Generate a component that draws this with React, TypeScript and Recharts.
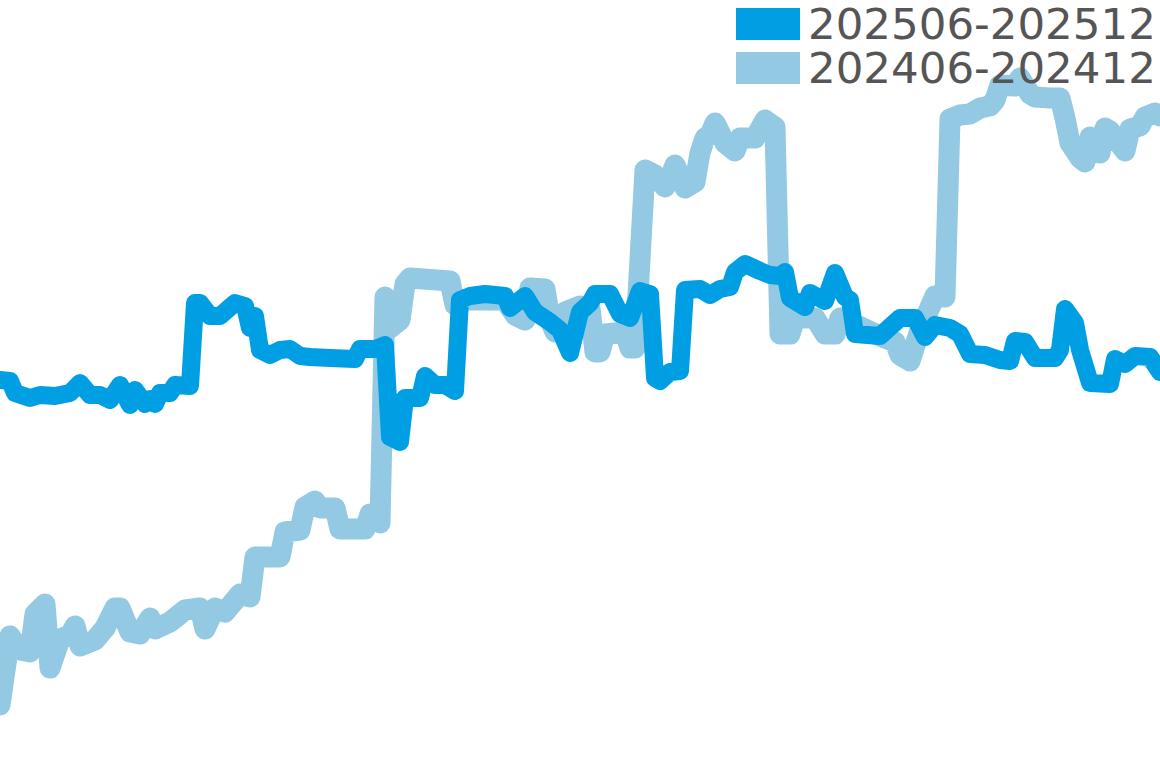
import { LineChart, Line, XAxis, YAxis } from "recharts";

// x = day index across the half-year window, y = index value
const CUR_LABEL = "202506-202512";
const PREV_LABEL = "202406-202412";

const curDays = [
  0, 2, 3, 6, 8, 11, 14, 16, 18, 20, 22, 24, 26, 27, 29, 30, 31, 32, 34, 35, 38,
  39, 40, 42, 44, 47, 49, 50, 51, 52, 54, 56, 58, 60, 62, 66, 71, 72, 75, 77, 78,
  80, 81, 84, 85, 87, 89, 91, 92, 94, 97, 101, 102, 105, 107, 110, 112, 114, 116,
  118, 119, 122, 124, 126, 128, 130, 131, 132, 134, 136, 137, 140, 142, 144, 146,
  147, 149, 152, 154, 156, 157, 158, 161, 162, 165, 167, 169, 170, 171, 176, 180,
  183, 185, 187, 190, 192, 194, 197, 200, 202, 203, 205, 207, 211, 212, 213, 215,
  216, 218, 222, 223, 225, 227, 230, 232,
];
const curValues = [
  97, 96.75, 93.75, 92.5, 93.25, 93, 93.75, 96.25, 93.25, 93.25, 92, 95.75, 90.75,
  94.5, 91, 92.25, 91, 93.75, 93.75, 95.75, 95.5, 116.25, 116.25, 113, 113, 116.25,
  115.5, 110, 113, 104.5, 103.25, 104.5, 104.75, 103, 102.75, 102.5, 102.25,
  104.75, 104.75, 105.75, 82.75, 81.5, 92.5, 92.5, 98, 95.75, 95.75, 94.25, 117,
  118, 118.5, 118, 115, 118, 114, 111.5, 109.5, 103.75, 114, 116.25, 118.5, 118.5,
  113.5, 112.5, 119.25, 118.5, 97.5, 96.75, 99, 99.25, 119.5, 119.75, 118.25,
  119.75, 120.25, 124, 126, 124.25, 123.25, 123, 124, 117.5, 115.25, 118.75,
  116.75, 123.75, 117.75, 117, 108.5, 108, 112.5, 112.5, 107.75, 110.75, 110,
  108.5, 103.5, 103.25, 102, 101.75, 106.75, 106.5, 102.5, 102.5, 104.5, 114.75,
  111.25, 104.5, 96.25, 96, 102.25, 101, 103, 102.75, 99,
];

const prevDays = [
  0, 2, 4, 6, 7, 9, 10, 12, 14, 15, 16, 19, 21, 23, 24, 26, 28, 30, 31, 34, 37,
  40, 41, 43, 45, 46, 48, 50, 51, 56, 57, 60, 61, 63, 64, 67, 68, 73, 74, 75, 76,
  77, 78, 80, 81, 82, 90, 91, 92, 101, 103, 105, 106, 109, 110, 111, 113, 116, 118,
  119, 120, 121, 125, 126, 127, 129, 131, 133, 134, 135, 137, 139, 140, 141, 142,
  143, 145, 147, 148, 151, 153, 155, 156, 158, 159, 163, 165, 167, 168, 170, 176,
  179, 180, 182, 184, 187, 189, 190, 192, 194, 196, 198, 199, 200, 203, 204, 206,
  207, 210, 212, 213, 214, 216, 217, 218, 220, 221, 222, 225, 226, 228, 229, 231,
  232,
];
const prevValues = [
  15.75, 33, 29.5, 29, 38.5, 41, 25, 32.25, 33.25, 35.5, 30.5, 32, 35, 40, 40, 34,
  33.5, 37.5, 34.75, 36.5, 39.5, 40, 34.75, 40, 39, 40.5, 43.5, 42.75, 52.75, 52.75,
  59, 59.5, 65.25, 66.75, 65, 65, 59.75, 59.75, 63.5, 63.5, 61.25, 117.75, 110, 112,
  121, 122.5, 121.75, 115.75, 117, 117, 113.25, 112, 120, 119.75, 112, 109, 114,
  115.5, 115, 104, 104, 108.5, 109, 105, 105, 149.5, 148.25, 145.25, 147.5, 150.75,
  145, 146.5, 153.75, 157.5, 158.25, 161.25, 156.25, 154.25, 157.5, 157.5, 162,
  160.25, 108.5, 108.5, 112.5, 112.5, 108.5, 108.5, 112.5, 111.5, 108, 106.5,
  103.25, 101.75, 109.5, 118, 117.75, 162.25, 163.25, 163.5, 165, 165.5, 167,
  170.75, 170.5, 172.5, 168.5, 167.75, 167.5, 167.5, 162.5, 156.25, 152.5, 151.5,
  157.75, 153.75, 160, 159.25, 154.25, 159.75, 160.5, 162.75, 163.75, 163,
];

const CUR_COLOR = "#009fe3";
const PREV_COLOR = "#93c9e3";

export default function App() {
  const cur = curDays.map((day, i) => ({ day, value: curValues[i] }));
  const prev = prevDays.map((day, i) => ({ day, value: prevValues[i] }));

  return (
    <div style={{ position: "absolute", left: 0, top: 0, width: 1160, height: 768, background: "#fff" }}>
      <LineChart width={1160} height={768} margin={{ top: 0, right: 0, bottom: 0, left: 0 }}>
        <XAxis type="number" dataKey="day" domain={[0, 232]} hide />
        <YAxis type="number" dataKey="value" domain={[0, 192]} hide />
        <Line
          data={prev}
          dataKey="value"
          type="linear"
          stroke={PREV_COLOR}
          strokeWidth={21}
          strokeLinejoin="round"
          strokeLinecap="round"
          dot={false}
          isAnimationActive={false}
        />
        <Line
          data={cur}
          dataKey="value"
          type="linear"
          stroke={CUR_COLOR}
          strokeWidth={18}
          strokeLinejoin="round"
          strokeLinecap="round"
          dot={false}
          isAnimationActive={false}
        />
      </LineChart>
      {/* legend sits on top of the lines, top-right */}
      <svg width={1160} height={100} style={{ position: "absolute", left: 0, top: 0 }}>
        {[
          { label: CUR_LABEL, color: CUR_COLOR },
          { label: PREV_LABEL, color: PREV_COLOR },
        ].map((d, i) => (
          <g key={d.label}>
            <rect x={736} y={8 + i * 44} width={64} height={32} fill={d.color} />
            <text
              x={808}
              y={39 + i * 44}
              fill="#555555"
              fontFamily="'DejaVu Sans', sans-serif"
              fontSize={43.5}
            >
              {d.label}
            </text>
          </g>
        ))}
      </svg>
    </div>
  );
}
